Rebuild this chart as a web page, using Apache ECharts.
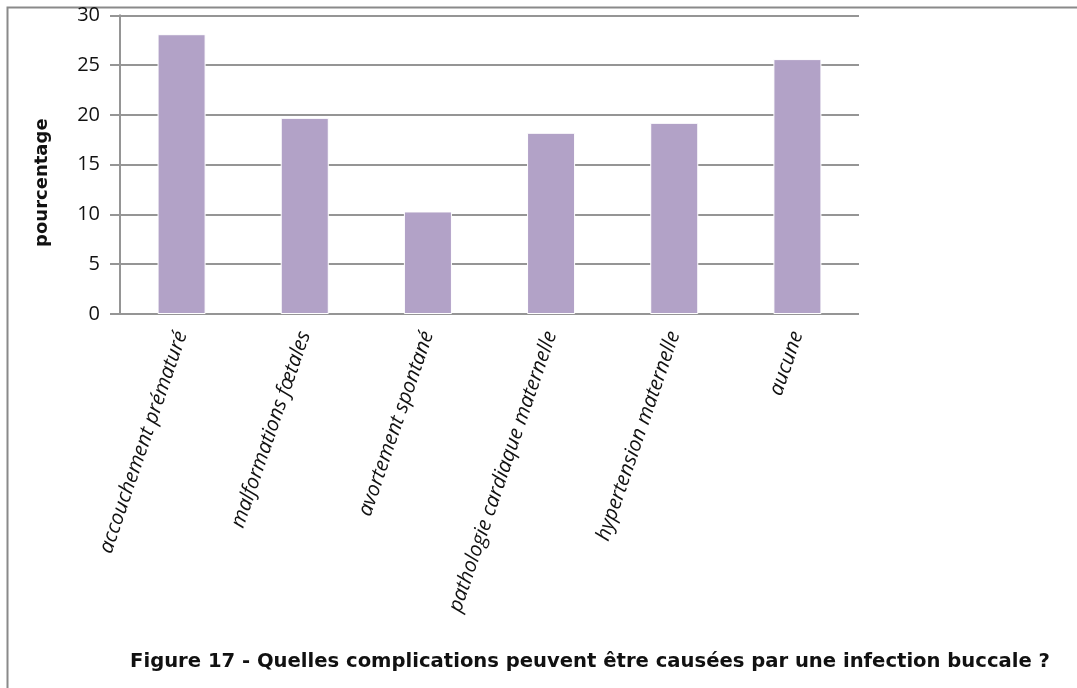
<!DOCTYPE html>
<html>
<head>
<meta charset="utf-8">
<script src="https://cdn.jsdelivr.net/npm/echarts@6/dist/echarts.min.js"></script>
<style>
  html, body { margin: 0; padding: 0; background: #fff; }
  #chart { width: 1077px; height: 688px; }
</style>
</head>
<body>
<div id="chart"></div>
<script>
// Réponses : complications pouvant être causées par une infection buccale (%)
const categories = [
  'accouchement prématuré',
  'malformations fœtales',
  'avortement spontané',
  'pathologie cardiaque maternelle',
  'hypertension maternelle',
  'aucune'
];
const pourcentages = [28.1, 19.7, 10.3, 18.2, 19.2, 25.6];
const yTicks = { min: 0, max: 30, interval: 5 };
const yAxisName = 'pourcentage';
const figureTitle = 'Figure 17 - Quelles complications peuvent être causées par une infection buccale ?';

const gridColor = '#959595';
const chart = echarts.init(document.getElementById('chart'), null, { renderer: 'canvas' });

chart.setOption({
  backgroundColor: '#ffffff',
  animation: false,
  title: {
    text: figureTitle,
    left: 585,
    top: 647,
    textAlign: 'center',
    textStyle: {
      fontFamily: 'DejaVu Sans',
      fontWeight: 'bold',
      fontSize: 19.6,
      color: '#111'
    }
  },
  graphic: [{
    type: 'rect',
    shape: { x: 7.5, y: 7.5, width: 1200, height: 800 },
    style: { fill: 'none', stroke: '#8a8a8a', lineWidth: 2 },
    silent: true
  }],
  grid: { left: 120, right: 218, top: 15.3, bottom: 374 },
  xAxis: {
    type: 'category',
    data: categories,
    axisLine: { show: false },
    axisTick: { show: false },
    axisLabel: {
      interval: 0,
      rotate: 71,
      margin: 18,
      fontFamily: 'Open Sans',
      fontStyle: 'italic',
      fontSize: 20.5,
      color: '#111'
    }
  },
  yAxis: {
    type: 'value',
    min: yTicks.min,
    max: yTicks.max,
    interval: yTicks.interval,
    name: yAxisName,
    nameLocation: 'middle',
    nameGap: 69,
    nameTextStyle: {
      fontFamily: 'DejaVu Sans',
      fontWeight: 'bold',
      fontSize: 18,
      color: '#111',
      padding: [0, 36, 0, 0]
    },
    axisLine: { show: true, lineStyle: { color: gridColor, width: 2 } },
    axisTick: { show: true, inside: false, length: 10, lineStyle: { color: gridColor, width: 2 } },
    axisLabel: {
      margin: 20,
      fontFamily: 'Open Sans',
      fontSize: 20,
      color: '#111'
    },
    splitLine: { show: true, lineStyle: { color: gridColor, width: 2 } }
  },
  series: [{
    type: 'bar',
    data: pourcentages,
    barWidth: '39%',
    itemStyle: { color: '#b2a2c7', borderColor: '#ffffff', borderWidth: 1 },
    z: 3
  }]
});
</script>
</body>
</html>
